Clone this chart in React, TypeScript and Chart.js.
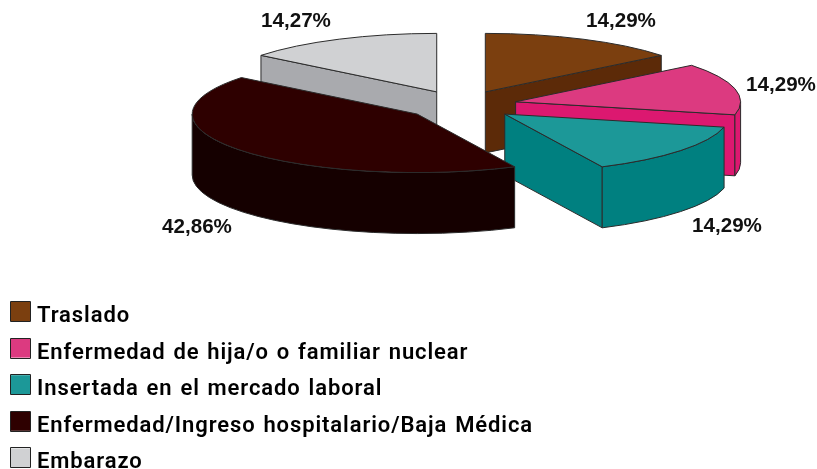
import React, { useEffect, useRef } from "react";
import { Chart, registerables } from "chart.js";

Chart.register(...registerables);

const categories = [
  "Traslado",
  "Enfermedad de hija/o o familiar nuclear",
  "Insertada en el mercado laboral",
  "Enfermedad/Ingreso hospitalario/Baja Médica",
  "Embarazo",
];
const values = [14.29, 14.29, 14.29, 42.86, 14.27];
const topColors = ["#7B3F0F", "#DC3A80", "#1C9898", "#2E0000", "#D0D1D3"];
const wallColors = ["#5C2A08", "#DC1870", "#008080", "#150000", "#A9AAAE"];
const paintOrder = [0, 4, 1, 2, 3];
const labelSpots = [
  [621, 21],
  [781, 85],
  [727, 226],
  [197, 227],
  [296, 21],
];

const CX = 461;
const CY = 105;
const RADIUS = 225;
const TILT = 0.26;
const EXPLODE = 56;
const DEPTH = 61;
const EDGE = "#2b2b2b";

const pie3d = {
  id: "pie3d",
  beforeDatasetDraw(chart: any, args: any) {
    const ctx = chart.ctx;
    const arcs = args.meta.data;
    ctx.lineWidth = 1;
    ctx.strokeStyle = EDGE;
    ctx.lineJoin = "round";
    for (const i of paintOrder) {
      const arc = arcs[i];
      const s = arc.startAngle;
      const e = arc.endAngle;
      const r = arc.outerRadius;
      const mid = (s + e) / 2;
      const px = CX + Math.cos(mid) * EXPLODE;
      const py = CY + Math.sin(mid) * EXPLODE * TILT;
      const rim = (a: number) => [px + r * Math.cos(a), py + r * TILT * Math.sin(a)];

      const radialWall = (a: number) => {
        const [x, y] = rim(a);
        ctx.beginPath();
        ctx.moveTo(px, py);
        ctx.lineTo(x, y);
        ctx.lineTo(x, y + DEPTH);
        ctx.lineTo(px, py + DEPTH);
        ctx.closePath();
        ctx.fillStyle = wallColors[i];
        ctx.fill();
        ctx.stroke();
      };
      if (Math.cos(s) < 0) radialWall(s);
      if (Math.cos(e) > 0) radialWall(e);

      const a1 = Math.max(s, 0);
      const a2 = Math.min(e, Math.PI);
      if (a2 > a1) {
        ctx.beginPath();
        ctx.ellipse(px, py, r, r * TILT, 0, a1, a2);
        ctx.ellipse(px, py + DEPTH, r, r * TILT, 0, a2, a1, true);
        ctx.closePath();
        ctx.fillStyle = wallColors[i];
        ctx.fill();
        ctx.stroke();
      }

      ctx.save();
      ctx.translate(px, py);
      ctx.scale(1, TILT);
      ctx.translate(-arc.x, -arc.y);
      arc.draw(ctx);
      ctx.beginPath();
      ctx.moveTo(arc.x, arc.y);
      ctx.arc(arc.x, arc.y, r, s, e);
      ctx.closePath();
      ctx.restore();
      ctx.stroke();
    }
    return false;
  },
  afterDraw(chart: any) {
    const ctx = chart.ctx;
    const data = chart.data.datasets[0].data as number[];
    const labels = chart.data.labels as string[];
    ctx.save();
    ctx.textBaseline = "middle";
    ctx.textAlign = "center";
    ctx.fillStyle = "#111";
    ctx.font = "bold 20.6px 'Liberation Sans'";
    data.forEach((v, i) => {
      const [x, y] = labelSpots[i];
      ctx.fillText(v.toFixed(2).replace(".", ",") + "%", x, y);
    });
    ctx.textAlign = "left";
    ctx.textBaseline = "alphabetic";
    ctx.font = "600 22px Roboto";
    (ctx as any).letterSpacing = "0.9px";
    (ctx as any).wordSpacing = "1.5px";
    labels.forEach((t, i) => {
      const top = 302 + i * 36.6;
      ctx.fillStyle = topColors[i];
      ctx.strokeStyle = "#222";
      ctx.lineWidth = 1;
      ctx.fillRect(11, top, 19, 19);
      ctx.strokeRect(10.5, Math.round(top) - 0.5, 20, 20);
      ctx.fillStyle = "#000";
      ctx.fillText(t, 37, top + 20);
    });
    ctx.restore();
  },
};

export default function App() {
  const ref = useRef<HTMLCanvasElement>(null);
  useEffect(() => {
    const chart = new Chart(ref.current!, {
      type: "pie",
      data: {
        labels: categories,
        datasets: [
          {
            data: values,
            backgroundColor: topColors,
            borderWidth: 0,
          },
        ],
      },
      options: {
        animation: false,
        responsive: false,
        events: [],
        radius: RADIUS,
        plugins: { legend: { display: false }, tooltip: { enabled: false } },
      } as any,
      plugins: [pie3d],
    });
    return () => chart.destroy();
  }, []);
  return (
    <div style={{ position: "absolute", left: 0, top: 0, width: 817, height: 469, background: "#fff" }}>
      <canvas ref={ref} width={817} height={469} style={{ display: "block" }} />
    </div>
  );
}
